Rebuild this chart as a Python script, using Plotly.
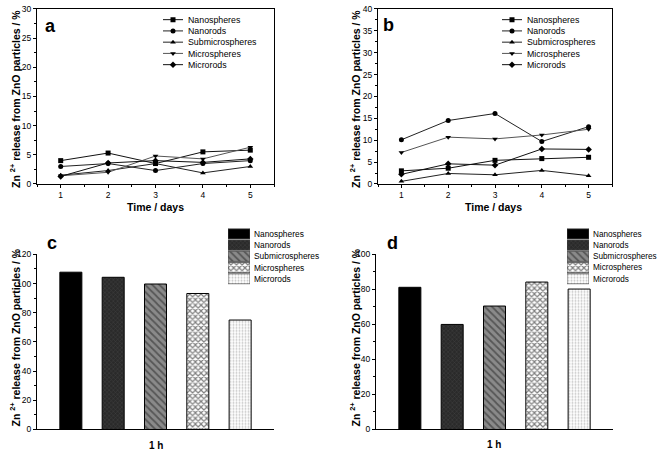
import plotly.graph_objects as go

W, H = 661, 455

materials = ["Nanospheres", "Nanorods", "Submicrospheres", "Microspheres", "Microrods"]
days = [1, 2, 3, 4, 5]

# Panel a values (% Zn2+ release)
a_nanospheres = [4.0, 5.3, 3.5, 5.5, 5.8]
a_nanorods = [3.0, 3.5, 2.3, 3.5, 4.0]
a_submicro = [1.5, 2.3, 3.5, 1.9, 3.0]
a_microspheres = [1.4, 2.0, 4.8, 4.3, 6.3]
a_microrods = [1.3, 3.6, 4.0, 3.7, 4.3]

# Panel b values
b_nanospheres = [3.0, 3.6, 5.4, 5.8, 6.1]
b_nanorods = [10.1, 14.5, 16.1, 9.7, 13.1]
b_submicro = [0.6, 2.4, 2.1, 3.1, 1.9]
b_microspheres = [7.2, 10.7, 10.3, 11.2, 12.5]
b_microrods = [2.2, 4.6, 4.3, 8.0, 7.9]

# Panel c and d values (1 h)
c_values = [107.8, 104.3, 99.7, 93.2, 75.0]
d_values = [81.2, 60.0, 70.5, 84.2, 80.2]

symbols = ["square", "circle", "triangle-up", "triangle-down", "diamond"]
line_colors = ["#111", "#222", "#222", "#555", "#111"]

patterns = [
    dict(shape="", bgcolor="black", fgcolor="black"),
    dict(shape="x", bgcolor="#2a2a2a", fgcolor="#555", size=3, solidity=0.3),
    dict(shape="\\", bgcolor="#8a8a8a", fgcolor="#222", size=5, solidity=0.35),
    dict(shape="x", bgcolor="white", fgcolor="#000", size=4, solidity=0.5),
    dict(shape=".", bgcolor="white", fgcolor="#8a8a8a", size=3, solidity=0.35),
]

FONT = "Liberation Sans, Arial, sans-serif"

def px_x(x):
    return x / W

def px_y(y):
    return 1 - y / H

fig = go.Figure()

a_series = [a_nanospheres, a_nanorods, a_submicro, a_microspheres, a_microrods]
b_series = [b_nanospheres, b_nanorods, b_submicro, b_microspheres, b_microrods]

for series, xa, ya in [(a_series, "x", "y"), (b_series, "x2", "y2")]:
    for i, name in enumerate(materials):
        fig.add_trace(go.Scatter(
            x=days, y=series[i], name=name, mode="lines+markers",
            line=dict(color=line_colors[i], width=1),
            marker=dict(symbol=symbols[i], size=5, color="black"),
            xaxis=xa, yaxis=ya, showlegend=False))

for vals, xa, ya in [(c_values, "x3", "y3"), (d_values, "x4", "y4")]:
    for i, name in enumerate(materials):
        fig.add_trace(go.Bar(
            x=[i + 1], y=[vals[i]], name=name, width=0.52,
            marker=dict(color=patterns[i]["bgcolor"], pattern=patterns[i],
                        line=dict(color="black", width=1)),
            xaxis=xa, yaxis=ya, showlegend=False))

# ---- legend keys drawn as small inset axes ----
legend_rows = list(range(len(materials)))
for xa, ya in [("x5", "y5"), ("x6", "y6")]:
    fig.add_trace(go.Scatter(
        x=[0.5] * len(materials), y=legend_rows, mode="markers",
        marker=dict(symbol=symbols, size=5, color="black"),
        xaxis=xa, yaxis=ya, showlegend=False, hoverinfo="skip"))
for xa, ya in [("x7", "y7"), ("x8", "y8")]:
    for i, name in enumerate(materials):
        fig.add_trace(go.Bar(
            y=[i], x=[1], orientation="h", width=0.9, name=name,
            marker=dict(color=patterns[i]["bgcolor"], pattern=patterns[i],
                        line=dict(color="#444", width=0.8)),
            xaxis=xa, yaxis=ya, showlegend=False, hoverinfo="skip"))

shapes = []
for xa, ya in [("x5", "y5"), ("x6", "y6")]:
    for i in legend_rows:
        shapes.append(dict(type="line", xref=xa, yref=ya, x0=0, x1=1, y0=i, y1=i,
                           line=dict(color=line_colors[i], width=1), layer="below"))

tickfont = dict(family=FONT, size=8.5, color="black")

def line_xaxis(domain, anchor):
    return dict(domain=domain, anchor=anchor, range=[0.5, 5.5], tickvals=days,
                ticks="outside", ticklen=3, tickwidth=1, tickcolor="black",
                minor=dict(dtick=0.5, tick0=0.5, ticks="outside", ticklen=2, tickcolor="black"),
                showline=True, linecolor="black", linewidth=1, mirror=True,
                showgrid=False, zeroline=False, tickfont=tickfont)

def line_yaxis(domain, anchor, top):
    return dict(domain=domain, anchor=anchor, range=[0, top], dtick=5,
                ticks="outside", ticklen=3, tickwidth=1, tickcolor="black",
                minor=dict(dtick=2.5, ticks="outside", ticklen=2, tickcolor="black"),
                showline=True, linecolor="black", linewidth=1, mirror=True,
                showgrid=False, zeroline=False, tickfont=tickfont)

def bar_xaxis(domain, anchor):
    return dict(domain=domain, anchor=anchor, range=[0.2, 5.8], showticklabels=False,
                ticks="", showline=True, linecolor="black", linewidth=1,
                showgrid=False, zeroline=False)

def bar_yaxis(domain, anchor, top):
    return dict(domain=domain, anchor=anchor, range=[0, top], dtick=20,
                ticks="outside", ticklen=3, tickwidth=1, tickcolor="black",
                minor=dict(dtick=10, ticks="outside", ticklen=2, tickcolor="black"),
                showline=True, linecolor="black", linewidth=1,
                showgrid=False, zeroline=False, tickfont=tickfont)

def key_xaxis(x0, x1, anchor):
    return dict(domain=[px_x(x0), px_x(x1)], anchor=anchor, range=[0, 1], visible=False,
                fixedrange=True)

def key_yaxis(first_row, step, anchor, standoff, fsize):
    top = first_row - step / 2
    bottom = first_row + step * (len(materials) - 0.5)
    return dict(domain=[px_y(bottom), px_y(top)], anchor=anchor,
                range=[len(materials) - 0.5, -0.5], side="right",
                tickvals=legend_rows, ticktext=materials, ticks="", showline=False,
                showgrid=False, zeroline=False,
                tickfont=dict(family=FONT, size=fsize, color="black"),
                ticklabelstandoff=standoff, fixedrange=True)

top_dom = [px_y(183), px_y(4)]
bot_dom = [px_y(434), px_y(255)]

fig.update_layout(
    width=W, height=H,
    margin=dict(l=0, r=0, t=0, b=0),
    paper_bgcolor="white", plot_bgcolor="white",
    barmode="overlay",
    showlegend=False,
    xaxis=line_xaxis([px_x(37), px_x(274)], "y"),
    yaxis=line_yaxis(top_dom, "x", 30),
    xaxis2=line_xaxis([px_x(378), px_x(612)], "y2"),
    yaxis2=line_yaxis(top_dom, "x2", 40),
    xaxis3=bar_xaxis([px_x(37), px_x(274)], "y3"),
    yaxis3=bar_yaxis(bot_dom, "x3", 120),
    xaxis4=bar_xaxis([px_x(376), px_x(613)], "y4"),
    yaxis4=bar_yaxis(bot_dom, "x4", 100),
    xaxis5=key_xaxis(163, 183, "y5"),
    yaxis5=key_yaxis(15, 11.5, "x5", 4, 8.8),
    xaxis6=key_xaxis(502, 522, "y6"),
    yaxis6=key_yaxis(15, 11.5, "x6", 4, 8.8),
    xaxis7=key_xaxis(228, 250, "y7"),
    yaxis7=key_yaxis(234, 11.5, "x7", 3, 8.4),
    xaxis8=key_xaxis(567, 589, "y8"),
    yaxis8=key_yaxis(234, 11.5, "x8", 3, 8.2),
    shapes=shapes,
)

ytitle = "Zn <sup>2+</sup> release from ZnO particles / %"
annots = []
for (x, y) in [(15, 96), (355, 96), (15, 340), (355, 340)]:
    annots.append(dict(text=ytitle, x=px_x(x), y=px_y(y), xref="paper", yref="paper",
                       xanchor="center", yanchor="middle", textangle=-90, showarrow=False,
                       font=dict(family=FONT, size=10.5, color="black", weight="bold")))
for (x, y) in [(155, 207), (493, 207)]:
    annots.append(dict(text="Time / days", x=px_x(x), y=px_y(y), xref="paper", yref="paper",
                       xanchor="center", yanchor="middle", showarrow=False,
                       font=dict(family=FONT, size=10.5, color="black", weight="bold")))
for (x, y) in [(156, 450), (494, 449)]:
    annots.append(dict(text="1 h", x=px_x(x), y=px_y(y), xref="paper", yref="paper",
                       xanchor="center", yanchor="middle", showarrow=False,
                       font=dict(family=FONT, size=10, color="black", weight="bold")))
for (t, x, y) in [("a", 50, 21), ("b", 388, 20), ("c", 52, 243), ("d", 392, 243)]:
    annots.append(dict(text=t, x=px_x(x), y=px_y(y), xref="paper", yref="paper",
                       xanchor="center", yanchor="middle", showarrow=False,
                       font=dict(family=FONT, size=18, color="black", weight="bold")))
fig.update_layout(annotations=annots)

fig.write_html("out.html",
               config={"displayModeBar": False, "staticPlot": True},
               post_script="document.body.style.margin='0';document.body.style.overflow='hidden';")
